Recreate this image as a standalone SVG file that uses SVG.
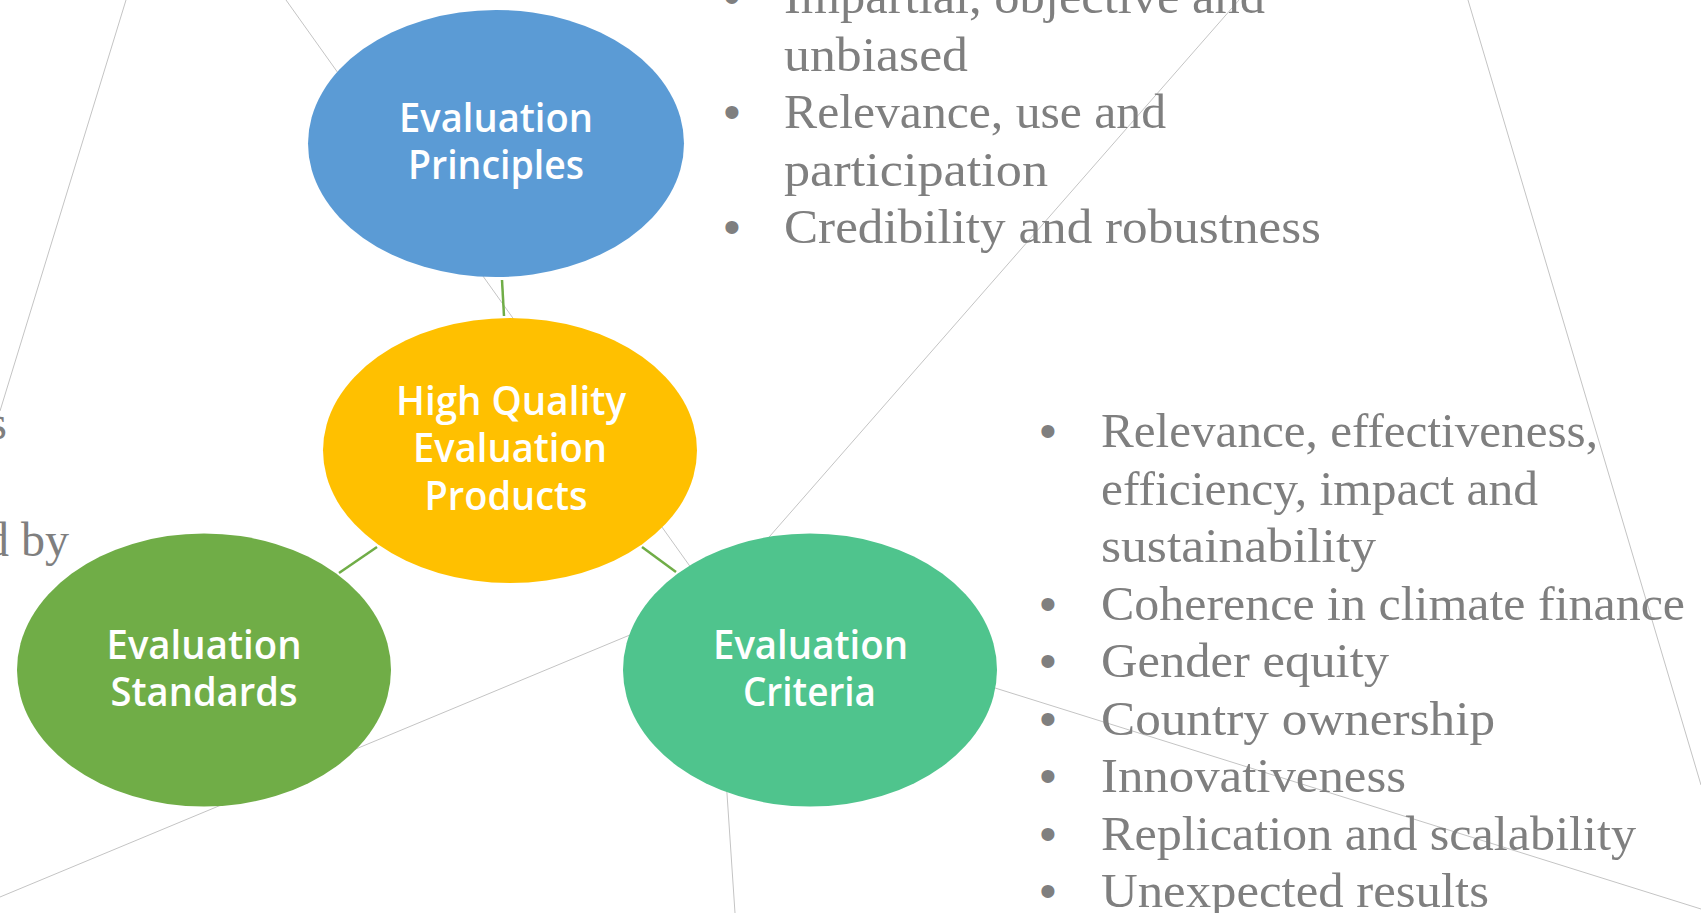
<svg xmlns="http://www.w3.org/2000/svg" width="1701" height="913" viewBox="0 0 1701 913">
  <style>
    .bg { fill: #ffffff; }
    .deco { stroke: #c4c4c4; stroke-width: 1; fill: none; }
    .link { stroke: #70ad47; stroke-width: 2.5; fill: none; stroke-linecap: butt; }
    .node-label { font-family: "Open Sans", "Lato", "Liberation Sans", sans-serif; font-weight: 600; font-size: 39px; fill: #ffffff; text-anchor: middle; }
    .list { font-family: "Liberation Serif", "DejaVu Serif", serif; font-size: 48px; fill: #7f7f7f; }
    .bullet { font-family: "Liberation Sans", Arial, sans-serif; font-size: 48px; fill: #7f7f7f; text-anchor: middle; }
  </style>

  <rect class="bg" x="0" y="0" width="1701" height="913"/>

  <!-- thin background rays -->
  <g id="background-lines">
    <line class="deco" x1="126" y1="0" x2="0" y2="411"/>
    <line class="deco" x1="1468" y1="0" x2="1701" y2="785"/>
    <line class="deco" x1="714" y1="600" x2="286" y2="0"/>
    <line class="deco" x1="714" y1="600" x2="1239" y2="0"/>
    <line class="deco" x1="714" y1="600" x2="0" y2="897"/>
    <line class="deco" x1="714" y1="600" x2="1701" y2="909"/>
    <line class="deco" x1="714" y1="600" x2="735" y2="913"/>
  </g>

  <!-- connectors between the circles -->
  <g id="connectors">
    <line class="link" x1="502" y1="280" x2="504" y2="316"/>
    <line class="link" x1="377" y1="547" x2="339" y2="573"/>
    <line class="link" x1="642" y1="547" x2="676" y2="572"/>
  </g>

  <g id="node-principles">
    <ellipse cx="496" cy="143.5" rx="188" ry="133.5" fill="#5b9bd5"/>
    <text class="node-label" x="496" y="132" textLength="194" lengthAdjust="spacingAndGlyphs">Evaluation</text>
    <text class="node-label" x="496" y="179" textLength="176" lengthAdjust="spacingAndGlyphs">Principles</text>
  </g>

  <g id="node-products">
    <ellipse cx="510" cy="450.5" rx="187" ry="132.5" fill="#ffc000"/>
    <text class="node-label" x="511" y="415" textLength="230" lengthAdjust="spacingAndGlyphs">High Quality</text>
    <text class="node-label" x="510" y="462" textLength="194" lengthAdjust="spacingAndGlyphs">Evaluation</text>
    <text class="node-label" x="506" y="510" textLength="163" lengthAdjust="spacingAndGlyphs">Products</text>
  </g>

  <g id="node-standards">
    <ellipse cx="204" cy="670" rx="187" ry="136.5" fill="#70ad47"/>
    <text class="node-label" x="204" y="659" textLength="195" lengthAdjust="spacingAndGlyphs">Evaluation</text>
    <text class="node-label" x="204" y="706" textLength="187" lengthAdjust="spacingAndGlyphs">Standards</text>
  </g>

  <g id="node-criteria">
    <ellipse cx="810" cy="670" rx="187" ry="136.5" fill="#4fc48d"/>
    <text class="node-label" x="810.5" y="659" textLength="195" lengthAdjust="spacingAndGlyphs">Evaluation</text>
    <text class="node-label" x="809.5" y="706" textLength="133" lengthAdjust="spacingAndGlyphs">Criteria</text>
  </g>

  <!-- principles list -->
  <g id="principles-list">
    <text class="bullet" x="732" y="13">•</text>
    <text class="list" x="784" y="13" textLength="481" lengthAdjust="spacingAndGlyphs">Impartial, objective and</text>
    <text class="list" x="784" y="70.5" textLength="184" lengthAdjust="spacingAndGlyphs">unbiased</text>
    <text class="bullet" x="732" y="128">•</text>
    <text class="list" x="784" y="128" textLength="382" lengthAdjust="spacingAndGlyphs">Relevance, use and</text>
    <text class="list" x="784" y="185.5" textLength="264" lengthAdjust="spacingAndGlyphs">participation</text>
    <text class="bullet" x="732" y="243">•</text>
    <text class="list" x="784" y="243" textLength="537" lengthAdjust="spacingAndGlyphs">Credibility and robustness</text>
  </g>

  <!-- criteria list -->
  <g id="criteria-list">
    <text class="bullet" x="1048" y="447">•</text>
    <text class="list" x="1101" y="447" textLength="497" lengthAdjust="spacingAndGlyphs">Relevance, effectiveness,</text>
    <text class="list" x="1101" y="504.5" textLength="437" lengthAdjust="spacingAndGlyphs">efficiency, impact and</text>
    <text class="list" x="1101" y="562" textLength="275" lengthAdjust="spacingAndGlyphs">sustainability</text>
    <text class="bullet" x="1048" y="619.5">•</text>
    <text class="list" x="1101" y="619.5" textLength="584" lengthAdjust="spacingAndGlyphs">Coherence in climate finance</text>
    <text class="bullet" x="1048" y="677">•</text>
    <text class="list" x="1101" y="677" textLength="288" lengthAdjust="spacingAndGlyphs">Gender equity</text>
    <text class="bullet" x="1048" y="734.5">•</text>
    <text class="list" x="1101" y="734.5" textLength="394" lengthAdjust="spacingAndGlyphs">Country ownership</text>
    <text class="bullet" x="1048" y="792">•</text>
    <text class="list" x="1101" y="792" textLength="305" lengthAdjust="spacingAndGlyphs">Innovativeness</text>
    <text class="bullet" x="1048" y="849.5">•</text>
    <text class="list" x="1101" y="849.5" textLength="535" lengthAdjust="spacingAndGlyphs">Replication and scalability</text>
    <text class="bullet" x="1048" y="907">•</text>
    <text class="list" x="1101" y="907" textLength="388" lengthAdjust="spacingAndGlyphs">Unexpected results</text>
  </g>

  <!-- fragments of the left text block, clipped by the page edge -->
  <g id="left-text">
    <text class="list" x="7" y="439" text-anchor="end">s</text>
    <text class="list" x="69" y="556" text-anchor="end">d by</text>
  </g>
</svg>
